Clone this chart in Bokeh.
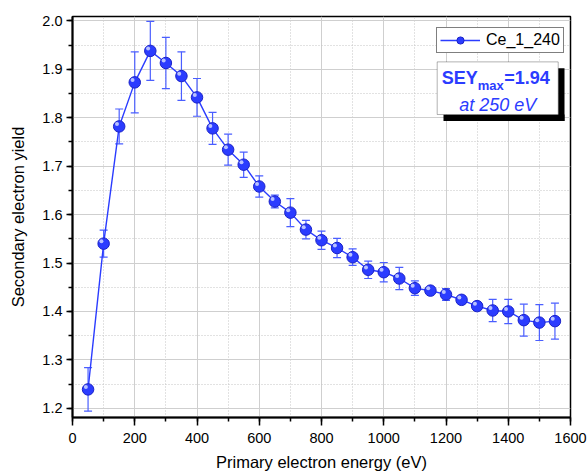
from bokeh.plotting import figure
from bokeh.models import (Range1d, SingleIntervalTicker, PrintfTickFormatter, ColumnDataSource,
                          Whisker, TeeHead, Legend, LegendItem, BoxAnnotation, Label)
from bokeh.embed import file_html
from bokeh.resources import INLINE

# ---- data ----
energy = [50, 100, 150, 200, 250, 300, 350, 400, 450, 500, 550, 600, 650, 700, 750, 800,
          850, 900, 950, 1000, 1050, 1100, 1150, 1200, 1250, 1300, 1350, 1400, 1450, 1500, 1550]
sey = [1.239, 1.540, 1.782, 1.873, 1.938, 1.913, 1.886, 1.842, 1.778, 1.734, 1.703, 1.658,
       1.627, 1.604, 1.569, 1.547, 1.531, 1.512, 1.486, 1.481, 1.468, 1.448, 1.443, 1.435,
       1.424, 1.411, 1.402, 1.400, 1.382, 1.377, 1.380]
sey_err = [0.045, 0.028, 0.036, 0.063, 0.061, 0.053, 0.050, 0.039, 0.033, 0.032, 0.026, 0.022,
           0.013, 0.029, 0.019, 0.019, 0.020, 0.017, 0.018, 0.020, 0.023, 0.015, 0.005, 0.012,
           0.008, 0.008, 0.023, 0.025, 0.033, 0.037, 0.037]
series_name = "Ce_1_240"
x_label = "Primary electron energy (eV)"
y_label = "Secondary electron yield"
sey_max_text = "=1.94"
sey_max_at = "at 250 eV"

BLUE = "#2b3cff"
EDGE = "#1a22c8"
ERRC = "#4a5eff"
FONT = "Liberation Sans"

W, H = 588, 475
BL, BR, BT, BB = 72, 18, 16, 58
X0, X1 = 0, 1600
Y0, Y1 = 1.181, 2.009
FRAME_W = W - BL - BR
FRAME_H = H - BT - BB
px_x = (X1 - X0) / FRAME_W
px_y = (Y1 - Y0) / FRAME_H

p = figure(width=W, height=H, output_backend="svg", toolbar_location=None,
           x_range=Range1d(X0, X1), y_range=Range1d(Y0, Y1),
           min_border_left=BL, min_border_right=BR, min_border_top=BT, min_border_bottom=BB,
           background_fill_color="white", border_fill_color="white")
p.outline_line_color = "black"
p.outline_line_width = 1.5

p.xaxis.ticker = SingleIntervalTicker(interval=200, num_minor_ticks=2)
p.yaxis.ticker = SingleIntervalTicker(interval=0.1, num_minor_ticks=2)
p.yaxis.formatter = PrintfTickFormatter(format="%.1f")
for ax in (p.xaxis, p.yaxis):
    ax.axis_line_color = "black"
    ax.axis_line_width = 2
    ax.major_tick_line_color = "black"
    ax.major_tick_line_width = 1.5
    ax.minor_tick_line_color = "black"
    ax.minor_tick_line_width = 1.5
    ax.major_tick_in = 0
    ax.minor_tick_in = 0
    ax.minor_tick_out = 4
    ax.major_label_text_font = FONT
    ax.major_label_text_font_size = "14.5px"
    ax.major_label_text_color = "black"
    ax.axis_label_text_font = FONT
    ax.axis_label_text_font_size = "16.5px"
    ax.axis_label_text_font_style = "normal"
    ax.axis_label_text_color = "black"
p.xaxis.major_tick_out = 8
p.yaxis.major_tick_out = 6
p.xaxis.major_label_standoff = 7
p.yaxis.major_label_standoff = 4
p.xaxis.axis_label = x_label
p.yaxis.axis_label = y_label
p.xaxis.axis_label_standoff = 7
p.yaxis.axis_label_standoff = 12

for g in (p.xgrid, p.ygrid):
    g.grid_line_color = "#cfcfcf"
    g.grid_line_width = 1
    g.minor_grid_line_color = "#c4c4c4"
    g.minor_grid_line_dash = "1 2"
    g.minor_grid_line_width = 1

lower = [v - e for v, e in zip(sey, sey_err)]
upper = [v + e for v, e in zip(sey, sey_err)]
src = ColumnDataSource(dict(x=energy, y=sey, lower=lower, upper=upper,
                            hx=[v - 2.2 * px_x for v in energy],
                            hy=[v + 2.4 * px_y for v in sey]))

whisk = Whisker(source=src, base="x", upper="upper", lower="lower", line_color=ERRC,
                line_width=1.2, level="underlay",
                upper_head=TeeHead(size=8, line_color=ERRC, line_width=1.2),
                lower_head=TeeHead(size=8, line_color=ERRC, line_width=1.2))
p.add_layout(whisk)

line_r = p.line("x", "y", source=src, line_color=BLUE, line_width=1.4)
scat_r = p.scatter("x", "y", source=src, size=11.5, fill_color=BLUE, line_color=EDGE, line_width=1)
p.scatter("hx", "hy", source=src, size=4, fill_color="#c9d0ff", fill_alpha=0.9, line_color=None)

legend = Legend(items=[LegendItem(label=series_name, renderers=[line_r, scat_r])],
                location=(FRAME_W - 7 - 127, FRAME_H - 13 - 24),
                padding=3, spacing=0, margin=0, glyph_width=40, glyph_height=18,
                label_height=18, label_standoff=6, label_text_font=FONT,
                label_text_font_size="16px", label_text_color="black",
                border_line_color="black", border_line_width=1,
                background_fill_color="white", background_fill_alpha=1)
p.add_layout(legend)

# annotation box (positions in data space); shadow drawn as two strips
bl, br, bt, bb = 1171.7, 1560.5, 1.9153, 1.8066
sh_dx, sh_dy = 6.3 * px_x, 6.4 * px_y
p.add_layout(BoxAnnotation(left=br, right=br + sh_dx, top=bt - sh_dy, bottom=bb - sh_dy,
                           fill_color="black", fill_alpha=1, line_color=None))
p.add_layout(BoxAnnotation(left=bl + sh_dx, right=br + sh_dx, top=bb, bottom=bb - sh_dy,
                           fill_color="black", fill_alpha=1, line_color=None))
p.add_layout(BoxAnnotation(left=bl, right=br, top=bt, bottom=bb,
                           fill_color="white", fill_alpha=1, line_color="black", line_width=1))
cx = (bl + br) / 2
y_line1 = 1.8828
y_line2 = 1.8263
p.add_layout(Label(x=cx, y=y_line1, text="SEY", x_offset=-56, text_align="left",
                   text_baseline="middle", text_font=FONT, text_font_style="bold",
                   text_font_size="18px", text_color=BLUE))
p.add_layout(Label(x=cx, y=y_line1, text="max", x_offset=-20, y_offset=-8, text_align="left",
                   text_baseline="middle", text_font=FONT, text_font_style="bold",
                   text_font_size="13px", text_color=BLUE))
p.add_layout(Label(x=cx, y=y_line1, text=sey_max_text, x_offset=6.5, text_align="left",
                   text_baseline="middle", text_font=FONT, text_font_style="bold",
                   text_font_size="18px", text_color=BLUE))
p.add_layout(Label(x=cx, y=y_line2, text=sey_max_at, text_align="center",
                   text_baseline="middle", text_font=FONT, text_font_style="italic",
                   text_font_size="18px", text_color=BLUE))

open("out.html", "w").write(file_html(p, INLINE))
